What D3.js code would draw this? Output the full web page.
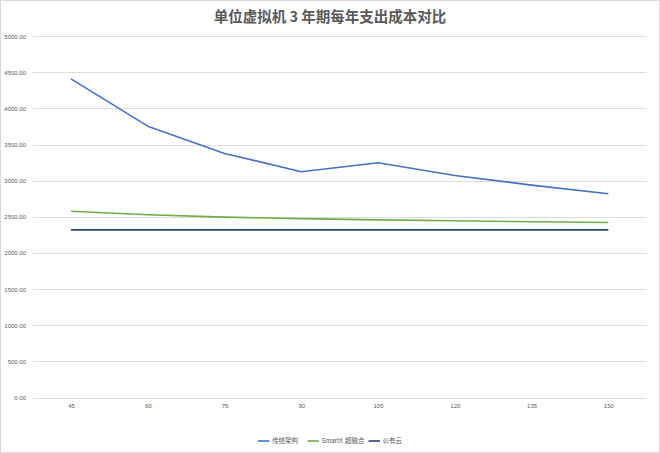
<!DOCTYPE html>
<html><head><meta charset="utf-8">
<script src="https://cdn.jsdelivr.net/npm/d3@7"></script>
<style>
html,body{margin:0;padding:0;background:#fff;}
svg{display:block;font-family:"Liberation Sans","Noto Sans CJK SC",sans-serif;}
</style></head>
<body>
<svg id="c" width="660" height="453"></svg>
<script>
const title = "单位虚拟机 3 年期每年支出成本对比";
const categories = ["45","60","75","90","105","120","135","150"];
const seriesNames = ["传统架构","SmartX 超融合","公有云"];
const traditional = [4410, 3755, 3378, 3125, 3249, 3072, 2939, 2820];
const smartx = [2578, 2530, 2496, 2475, 2458, 2445, 2432, 2421];
const publicCloud = [2320, 2320, 2320, 2320, 2320, 2320, 2320, 2320];
const yTicks = [0,500,1000,1500,2000,2500,3000,3500,4000,4500,5000];
const colors = ["#4472C4","#70AD47","#264478"];

(function(){
const svg = d3.select("#c");
svg.append("rect").attr("x",0.5).attr("y",0.5).attr("width",659).attr("height",452)
  .attr("fill","#fff").attr("stroke","#d9d9d9").attr("stroke-width",1);

const pL = 32.6, pR = 646.7, pT = 36.2, pB = 397.5;
const x = d3.scalePoint().domain(categories).range([pL,pR]).padding(0.5);
const y = d3.scaleLinear().domain([0,5000]).range([pB,pT]);

svg.append("text").attr("x",330).attr("y",22).attr("text-anchor","middle")
  .attr("font-size",14.5).attr("font-weight","bold").attr("fill","#595959")
  .attr("font-family","'Noto Sans CJK SC',sans-serif").text(title);

// gridlines
svg.append("g").selectAll("line").data(yTicks).join("line")
  .attr("x1",pL).attr("x2",pR)
  .attr("y1",d=>Math.round(y(d))+0.5).attr("y2",d=>Math.round(y(d))+0.5)
  .attr("stroke","#d9d9d9").attr("stroke-width",0.9);

// y axis labels
const yAxis = d3.axisLeft(y).tickValues(yTicks).tickSize(0).tickPadding(0)
  .tickFormat(d3.format(".2f"));
const gy = svg.append("g").attr("transform",`translate(26,0)`).call(yAxis);
gy.select(".domain").remove();
gy.selectAll("text").attr("font-size",6).attr("fill","#595959").attr("dy","0.32em")
  .attr("font-family","'Liberation Sans',sans-serif");

// x axis labels
const xAxis = d3.axisBottom(x).tickSize(0).tickPadding(0);
const gx = svg.append("g").attr("transform",`translate(0,404)`).call(xAxis);
gx.select(".domain").remove();
gx.selectAll("text").attr("font-size",6).attr("fill","#595959")
  .attr("font-family","'Liberation Sans',sans-serif");

const data = [traditional, smartx, publicCloud];
const line = d3.line().x((d,i)=>x(categories[i])).y(d=>y(d));
svg.append("g").selectAll("path").data(data).join("path")
  .attr("d",line).attr("fill","none")
  .attr("stroke",(d,i)=>colors[i]).attr("stroke-width",1.6)
  .attr("stroke-linejoin","round");

// legend
const legendX = [258, 307.5, 368.5];
const lg = svg.append("g").selectAll("g").data(seriesNames).join("g")
  .attr("transform",(d,i)=>`translate(${legendX[i]},441)`);
lg.append("line").attr("x1",0).attr("x2",11.5).attr("y1",0).attr("y2",0)
  .attr("stroke",(d,i)=>colors[i]).attr("stroke-width",1.6);
lg.append("text").attr("x",14).attr("y",0).attr("dy","0.35em")
  .attr("font-size",6.5).attr("fill","#595959")
  .attr("font-family","'Liberation Sans','Noto Sans CJK SC',sans-serif")
  .text(d=>d);
})();
</script>
</body></html>
